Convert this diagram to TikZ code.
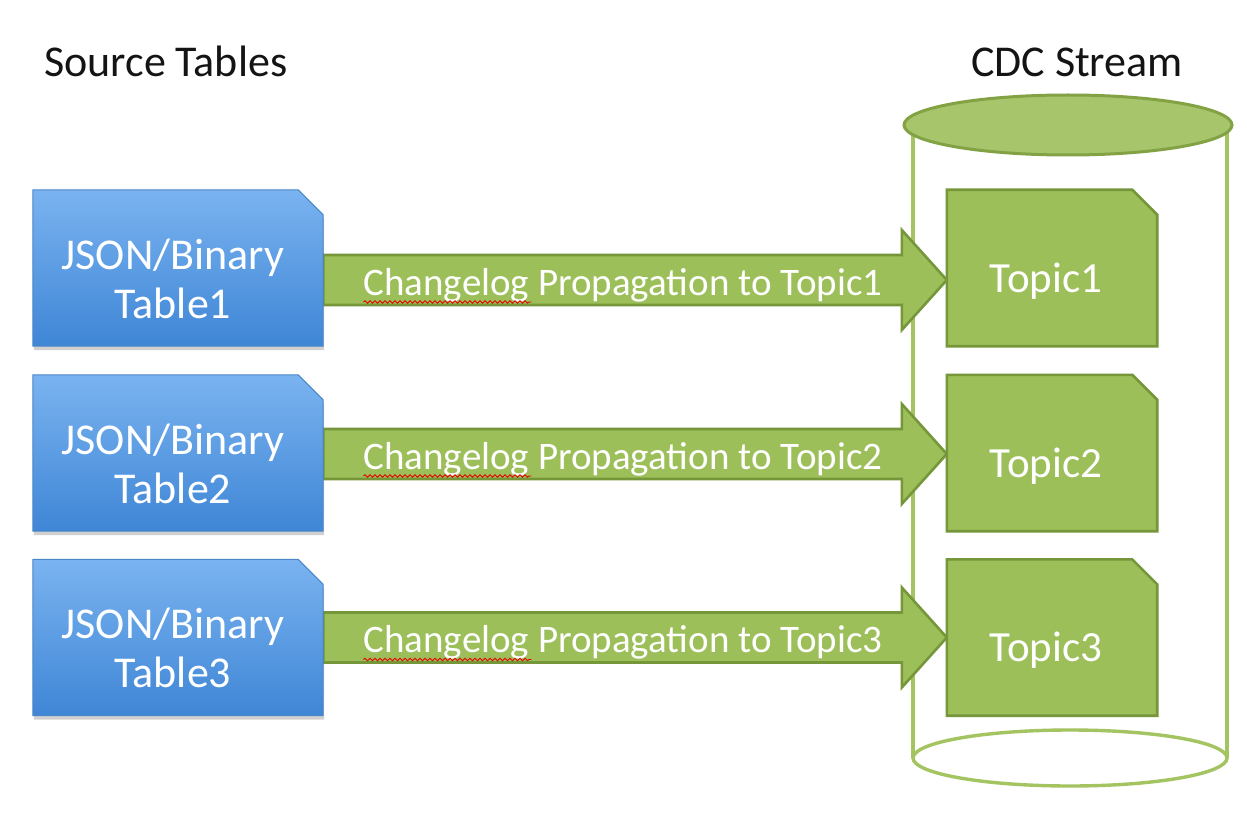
\documentclass[tikz,border=0pt]{standalone}
\usepackage{fontspec}
\setmainfont{Carlito}
\usetikzlibrary{shadows,decorations.pathmorphing,calc}
\definecolor{bluetop}{HTML}{7AB3F0}
\definecolor{bluebot}{HTML}{3F86D6}
\definecolor{blueline}{HTML}{4A86C8}
\definecolor{gfill}{HTML}{9DBF5A}
\definecolor{gline}{HTML}{76963A}
\definecolor{cylline}{HTML}{A3C460}
\newcommand\cutshape[2]{%
  \path[#2] (#1.south west) -- (#1.north west) -- ([xshift=-25pt]#1.north east)
    -- ([yshift=-25pt]#1.north east) -- (#1.south east) -- cycle;}
\newcommand\blockarrow[4]{%
  \coordinate (s#4) at ([yshift=#3]#1.east);
  \coordinate (e#4) at ([yshift=#3]#2.west);
  \path[arrowfill] ($(s#4)+(0,25)$) -- ($(e#4)+(-45,25)$) -- ($(e#4)+(-45,50)$) -- (e#4)
    -- ($(e#4)+(-45,-50)$) -- ($(e#4)+(-45,-25)$) -- ($(s#4)+(0,-25)$) -- cycle;}
\begin{document}
\begin{tikzpicture}[x=1pt,y=1pt,
  boxshape/.style={minimum width=290pt,minimum height=156pt,inner sep=0pt},
  topicshape/.style={minimum width=210pt,minimum height=156pt,inner sep=0pt},
  bluefill/.style={top color=bluetop,bottom color=bluebot,draw=blueline,line width=1pt,
    drop shadow={shadow xshift=1pt,shadow yshift=-4pt,opacity=0.3,fill=black!60}},
  greenfill/.style={fill=gfill,draw=gline,line width=2.6pt},
  arrowfill/.style={fill=gfill,draw=gline,line width=2.6pt,line join=miter},
  boxtxt/.style={text=white,font=\fontsize{44}{49}\selectfont,align=center,inner sep=0pt},
  topictxt/.style={text=white,font=\fontsize{43}{49}\selectfont,inner sep=0pt,anchor=base},
  lbl/.style={text=white,font=\fontsize{39}{44}\selectfont,inner sep=0pt,anchor=base},
  title/.style={text=black!92,font=\fontsize{44}{49}\selectfont,inner sep=0pt},
  cyl/.style={draw=cylline,line width=3.4pt},
  cyltop/.style={fill=gfill!90!white,draw=gline!70!gfill,line width=3pt},
  squig/.style={draw=red!90!black,line width=0.9pt,decorate,
    decoration={snake,segment length=5pt,amplitude=1.2pt}}]
\path[use as bounding box,fill=white] (0,0) rectangle (1247,-813);

% titles
\node[title,anchor=base west] (srcT) at (44,-77) {Source Tables};
\node[title,anchor=base] (cdcT) at (1077,-77) {CDC Stream};

% cylinder
\draw[cyl] (913,-125) -- (913,-758);
\draw[cyl] (1227,-125) -- (1227,-758);
\draw[cyl,fill=white] (1070,-758) ellipse [x radius=157,y radius=28];
\draw[cyltop] (1068,-125) ellipse [x radius=164,y radius=30];

% placeholder nodes
\node[boxshape] (t1) at (178,-268) {};
\node[boxshape] (t2) at (178,-453) {};
\node[boxshape] (t3) at (178,-637.5) {};
\node[topicshape] (p1) at (1052,-268) {};
\node[topicshape] (p2) at (1052,-453) {};
\node[topicshape] (p3) at (1052,-637.5) {};

% arrows
\blockarrow{t1}{p1}{-12pt}{1}
\blockarrow{t2}{p2}{-1pt}{2}
\blockarrow{t3}{p3}{0pt}{3}

% shapes
\cutshape{t1}{bluefill}
\cutshape{t2}{bluefill}
\cutshape{t3}{bluefill}
\cutshape{p1}{greenfill}
\cutshape{p2}{greenfill}
\cutshape{p3}{greenfill}

% box texts
\node[boxtxt] (t1x) at ([yshift=-11pt,xshift=-5pt]t1.center) {JSON/Binary\\Table1};
\node[boxtxt] (t2x) at ([yshift=-11pt,xshift=-5pt]t2.center) {JSON/Binary\\Table2};
\node[boxtxt] (t3x) at ([yshift=-10pt,xshift=-5pt]t3.center) {JSON/Binary\\Table3};
\node[topictxt] (p1x) at ([yshift=-24pt,xshift=-6pt]p1.center) {Topic1};
\node[topictxt] (p2x) at ([yshift=-24pt,xshift=-6pt]p2.center) {Topic2};
\node[topictxt] (p3x) at ([yshift=-24pt,xshift=-6pt]p3.center) {Topic3};

% arrow labels
\node[lbl] (l1) at ($(s1)!0.5!(e1)+(-12,-15)$) {Changelog Propagation to Topic1};
\node[lbl] (l2) at ($(s2)!0.5!(e2)+(-12,-15)$) {Changelog Propagation to Topic2};
\node[lbl] (l3) at ($(s3)!0.5!(e3)+(-12,-15)$) {Changelog Propagation to Topic3};
\draw[squig] ([yshift=-7pt]l1.base west) -- ++(168,0);
\draw[squig] ([yshift=-7pt]l2.base west) -- ++(168,0);
\draw[squig] ([yshift=-7pt]l3.base west) -- ++(168,0);
\end{tikzpicture}
\end{document}
